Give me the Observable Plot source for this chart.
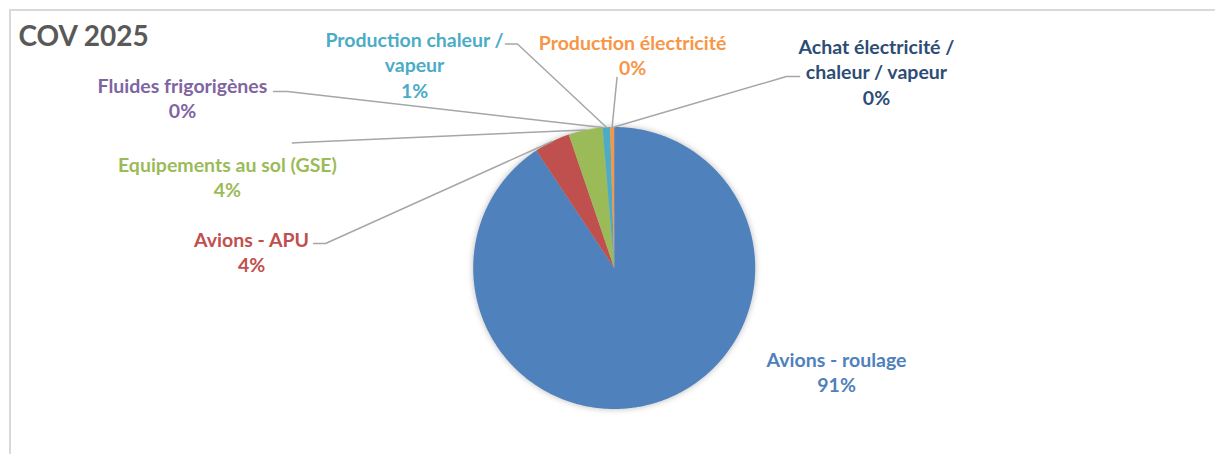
<!DOCTYPE html>
<html>
<head>
<meta charset="utf-8">
<script src="https://cdn.jsdelivr.net/npm/d3@7"></script>
<script src="https://cdn.jsdelivr.net/npm/@observablehq/plot@0.6"></script>
<style>
  html, body { margin: 0; padding: 0; background: #fff; }
  #wrap { position: relative; width: 1215px; height: 454px; overflow: hidden; }
  #border { position: absolute; left: 9px; top: 9px; width: 1400px; height: 600px;
            border-top: 2px solid #d9d9d9; border-left: 2px solid #d9d9d9; pointer-events: none; }
</style>
</head>
<body>
<div id="wrap"><div id="chart"></div><div id="border"></div></div>
<script>
// ---- Data ----
const title = "COV 2025";
const categories = [
  "Avions - roulage",
  "Avions - APU",
  "Equipements au sol (GSE)",
  "Fluides frigorigènes",
  "Production chaleur / vapeur",
  "Production électricité",
  "Achat électricité / chaleur / vapeur"
];
const values = [90.7, 4.1, 3.9, 0.01, 0.85, 0.45, 0.01];
const colors = ["#4F81BD", "#C0504D", "#9BBB59", "#8064A2", "#4BACC6", "#F79646", "#2C4D75"];
const labelText = [
  "Avions - roulage",
  "Avions - APU",
  "Equipements au sol (GSE)",
  "Fluides frigorigènes",
  "Production chaleur /\nvapeur",
  "Production électricité",
  "Achat électricité /\nchaleur / vapeur"
];

// ---- Layout (in pie-radius units, pie centre = 0,0) ----
const labelPos = [
  [1.577, -0.734], [-2.572, 0.117], [-2.743, 0.649], [-3.062, 1.209],
  [-1.416, 1.447], [0.130, 1.514], [1.860, 1.396]
];
const leaderKnees = [
  null,
  [[-2.132, 0.174], [-2.047, 0.174]],
  [[-2.282, 0.887], [-2.225, 0.89]],
  [[-2.416, 1.252], [-2.317, 1.252]],
  [[-0.771, 1.589], [-0.686, 1.589]],
  [[0.020, 1.351]],
  [[1.314, 1.358], [1.221, 1.358]]
];

const W = 1215, H = 454, cx = 613.7, cy = 267.5, R = 141;

const total = d3.sum(values);
const arcs = d3.pie().sort(null).startAngle(0).endAngle(2 * Math.PI)(values);

// slice polygons
const slicePts = [];
arcs.forEach((a, i) => {
  const n = Math.max(2, Math.ceil((a.endAngle - a.startAngle) / (Math.PI / 360)));
  slicePts.push({cat: categories[i], x: 0, y: 0});
  for (let k = 0; k <= n; k++) {
    const t = a.startAngle + (a.endAngle - a.startAngle) * k / n;
    slicePts.push({cat: categories[i], x: Math.sin(t), y: Math.cos(t)});
  }
  slicePts.push({cat: categories[i], x: 0, y: 0});
});

// leader lines
const leaderPts = [];
arcs.forEach((a, i) => {
  if (!leaderKnees[i]) return;
  leaderKnees[i].forEach(([x, y]) => leaderPts.push({cat: categories[i], x, y}));
  const m = (a.startAngle + a.endAngle) / 2;
  leaderPts.push({cat: categories[i], x: Math.sin(m), y: Math.cos(m)});
});

// labels
const labels = categories.map((c, i) => ({
  cat: c,
  x: labelPos[i][0],
  y: labelPos[i][1],
  text: labelText[i] + "\n" + Math.round(values[i] / total * 100) + "%"
}));

const chart = Plot.plot({
  width: W,
  height: H,
  margin: 0,
  style: {fontFamily: "Lato, sans-serif", background: "transparent"},
  x: {domain: [(0 - cx) / R, (W - cx) / R], range: [0, W], axis: null},
  y: {domain: [(cy - H) / R, cy / R], range: [H, 0], axis: null},
  color: {domain: categories, range: colors},
  marks: [
    Plot.line(slicePts, {x: "x", y: "y", z: "cat", fill: "cat", stroke: "none", curve: "linear"}),
    Plot.line(leaderPts, {x: "x", y: "y", z: "cat", stroke: "#A6A6A6", strokeWidth: 1.5, curve: "linear"}),
    Plot.text(labels, {x: "x", y: "y", text: "text", fill: "cat", fontSize: 19.5, fontWeight: "bold",
      lineHeight: 1.31, textAnchor: "middle", lineAnchor: "middle"}),
    Plot.text([title], {text: d => d, frameAnchor: "top-left", dx: 18, dy: 37, textAnchor: "start",
      lineAnchor: "middle", fontSize: 28, fontWeight: "bold", fill: "#595959"})
  ]
});
document.getElementById("chart").appendChild(chart);
d3.select(chart).selectAll('g[aria-label="line"]').filter((d, i) => i === 0)
  .style("filter", "drop-shadow(0px 0px 3px rgba(0,0,0,0.28))");
</script>
</body>
</html>
